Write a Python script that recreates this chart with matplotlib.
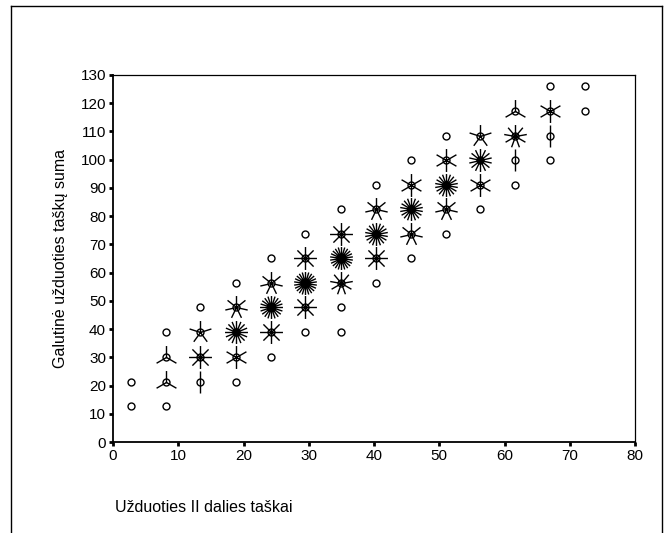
import numpy as np
import matplotlib
matplotlib.use("Agg")
import matplotlib.pyplot as plt
from matplotlib.path import Path
from matplotlib.lines import Line2D

plt.rcParams['font.family'] = ['Liberation Sans', 'DejaVu Sans']

# sunflower cells: x bin centre, y bin centre, number of cases (petals)
px = [2.7, 2.7,
      8.1, 8.1, 8.1, 8.1,
      13.4, 13.4, 13.4, 13.4,
      18.8, 18.8, 18.8, 18.8, 18.8,
      24.2, 24.2, 24.2, 24.2, 24.2,
      29.5, 29.5, 29.5, 29.5, 29.5,
      34.9, 34.9, 34.9, 34.9, 34.9, 34.9,
      40.3, 40.3, 40.3, 40.3, 40.3,
      45.6, 45.6, 45.6, 45.6, 45.6,
      51.0, 51.0, 51.0, 51.0, 51.0,
      56.3, 56.3, 56.3, 56.3,
      61.6, 61.6, 61.6, 61.6,
      67.0, 67.0, 67.0, 67.0,
      72.4, 72.4]
py = [12.8, 21.4,
      12.8, 21.4, 30.1, 38.9,
      21.4, 30.1, 38.9, 47.8,
      21.4, 30.1, 38.9, 47.8, 56.4,
      30.1, 38.9, 47.8, 56.4, 65.1,
      38.9, 47.8, 56.4, 65.1, 73.8,
      38.9, 47.8, 56.4, 65.1, 73.8, 82.6,
      56.4, 65.1, 73.8, 82.6, 91.0,
      65.1, 73.8, 82.6, 91.0, 99.9,
      73.8, 82.6, 91.0, 99.9, 108.5,
      82.6, 91.0, 99.9, 108.5,
      91.0, 99.9, 108.5, 117.2,
      99.9, 108.5, 117.2, 126.0,
      117.2, 126.0]
cnt = [1, 1,
       1, 3, 3, 1,
       2, 8, 5, 1,
       1, 6, 16, 7, 1,
       1, 8, 20, 7, 1,
       1, 8, 22, 8, 1,
       1, 1, 9, 22, 8, 1,
       1, 8, 18, 7, 1,
       1, 7, 18, 6, 1,
       1, 7, 18, 6, 1,
       1, 6, 14, 5,
       1, 2, 9, 3,
       1, 2, 6, 1,
       1, 1]

xticks = np.arange(0, 81, 10)
yticks = np.arange(0, 131, 10)


def petals(n):
    # n line segments from the centre, first one pointing up
    verts, codes = [], []
    for k in range(n):
        a = np.pi / 2 + 2 * np.pi * k / n
        verts += [(0, 0), (np.cos(a), np.sin(a))]
        codes += [Path.MOVETO, Path.LINETO]
    # invisible corners keep the scaling the same for every n
    verts += [(-1, -1), (-1, -1), (1, 1), (1, 1)]
    codes += [Path.MOVETO, Path.LINETO, Path.MOVETO, Path.LINETO]
    return Path(verts, codes)


fig = plt.figure(figsize=(6.67, 5.33), dpi=100)
ax = fig.add_axes([113 / 667, 1 - 442 / 533, 522 / 667, 367 / 533])

for x, y, n in zip(px, py, cnt):
    if n > 1:
        ax.plot(x, y, marker=petals(n), markersize=16.5, color='black',
                markeredgewidth=1.0, linestyle='none', clip_on=False)
    ax.plot(x, y, marker='o', markersize=5, markerfacecolor='white' if n == 1 else 'none',
            markeredgecolor='black', markeredgewidth=1.0, linestyle='none', clip_on=False)

ax.set_xlim(0, 80)
ax.set_ylim(0, 130)
ax.set_xticks(xticks)
ax.set_yticks(yticks)
ax.tick_params(direction='out', length=3, width=2, labelsize=11, pad=2)
for s in ['left', 'bottom']:
    ax.spines[s].set_linewidth(1.3)
for s in ['top', 'right']:
    ax.spines[s].set_linewidth(0.9)

fig.text(60 / 667, 1 - 258 / 533, 'Galutinė užduoties taškų suma', rotation=90,
         ha='center', va='center', fontsize=11.5)
fig.text(115 / 667, 1 - 508 / 533, 'Užduoties II dalies taškai',
         ha='left', va='center', fontsize=11.5)

# outer frame (open at bottom)
fig.add_artist(Line2D([11 / 667, 11 / 667], [0, 1 - 6 / 533], color='black', lw=1))
fig.add_artist(Line2D([11 / 667, 662 / 667], [1 - 6 / 533, 1 - 6 / 533], color='black', lw=1))
fig.add_artist(Line2D([662 / 667, 662 / 667], [0, 1 - 6 / 533], color='black', lw=1))

fig.savefig('out.png', dpi=100)
